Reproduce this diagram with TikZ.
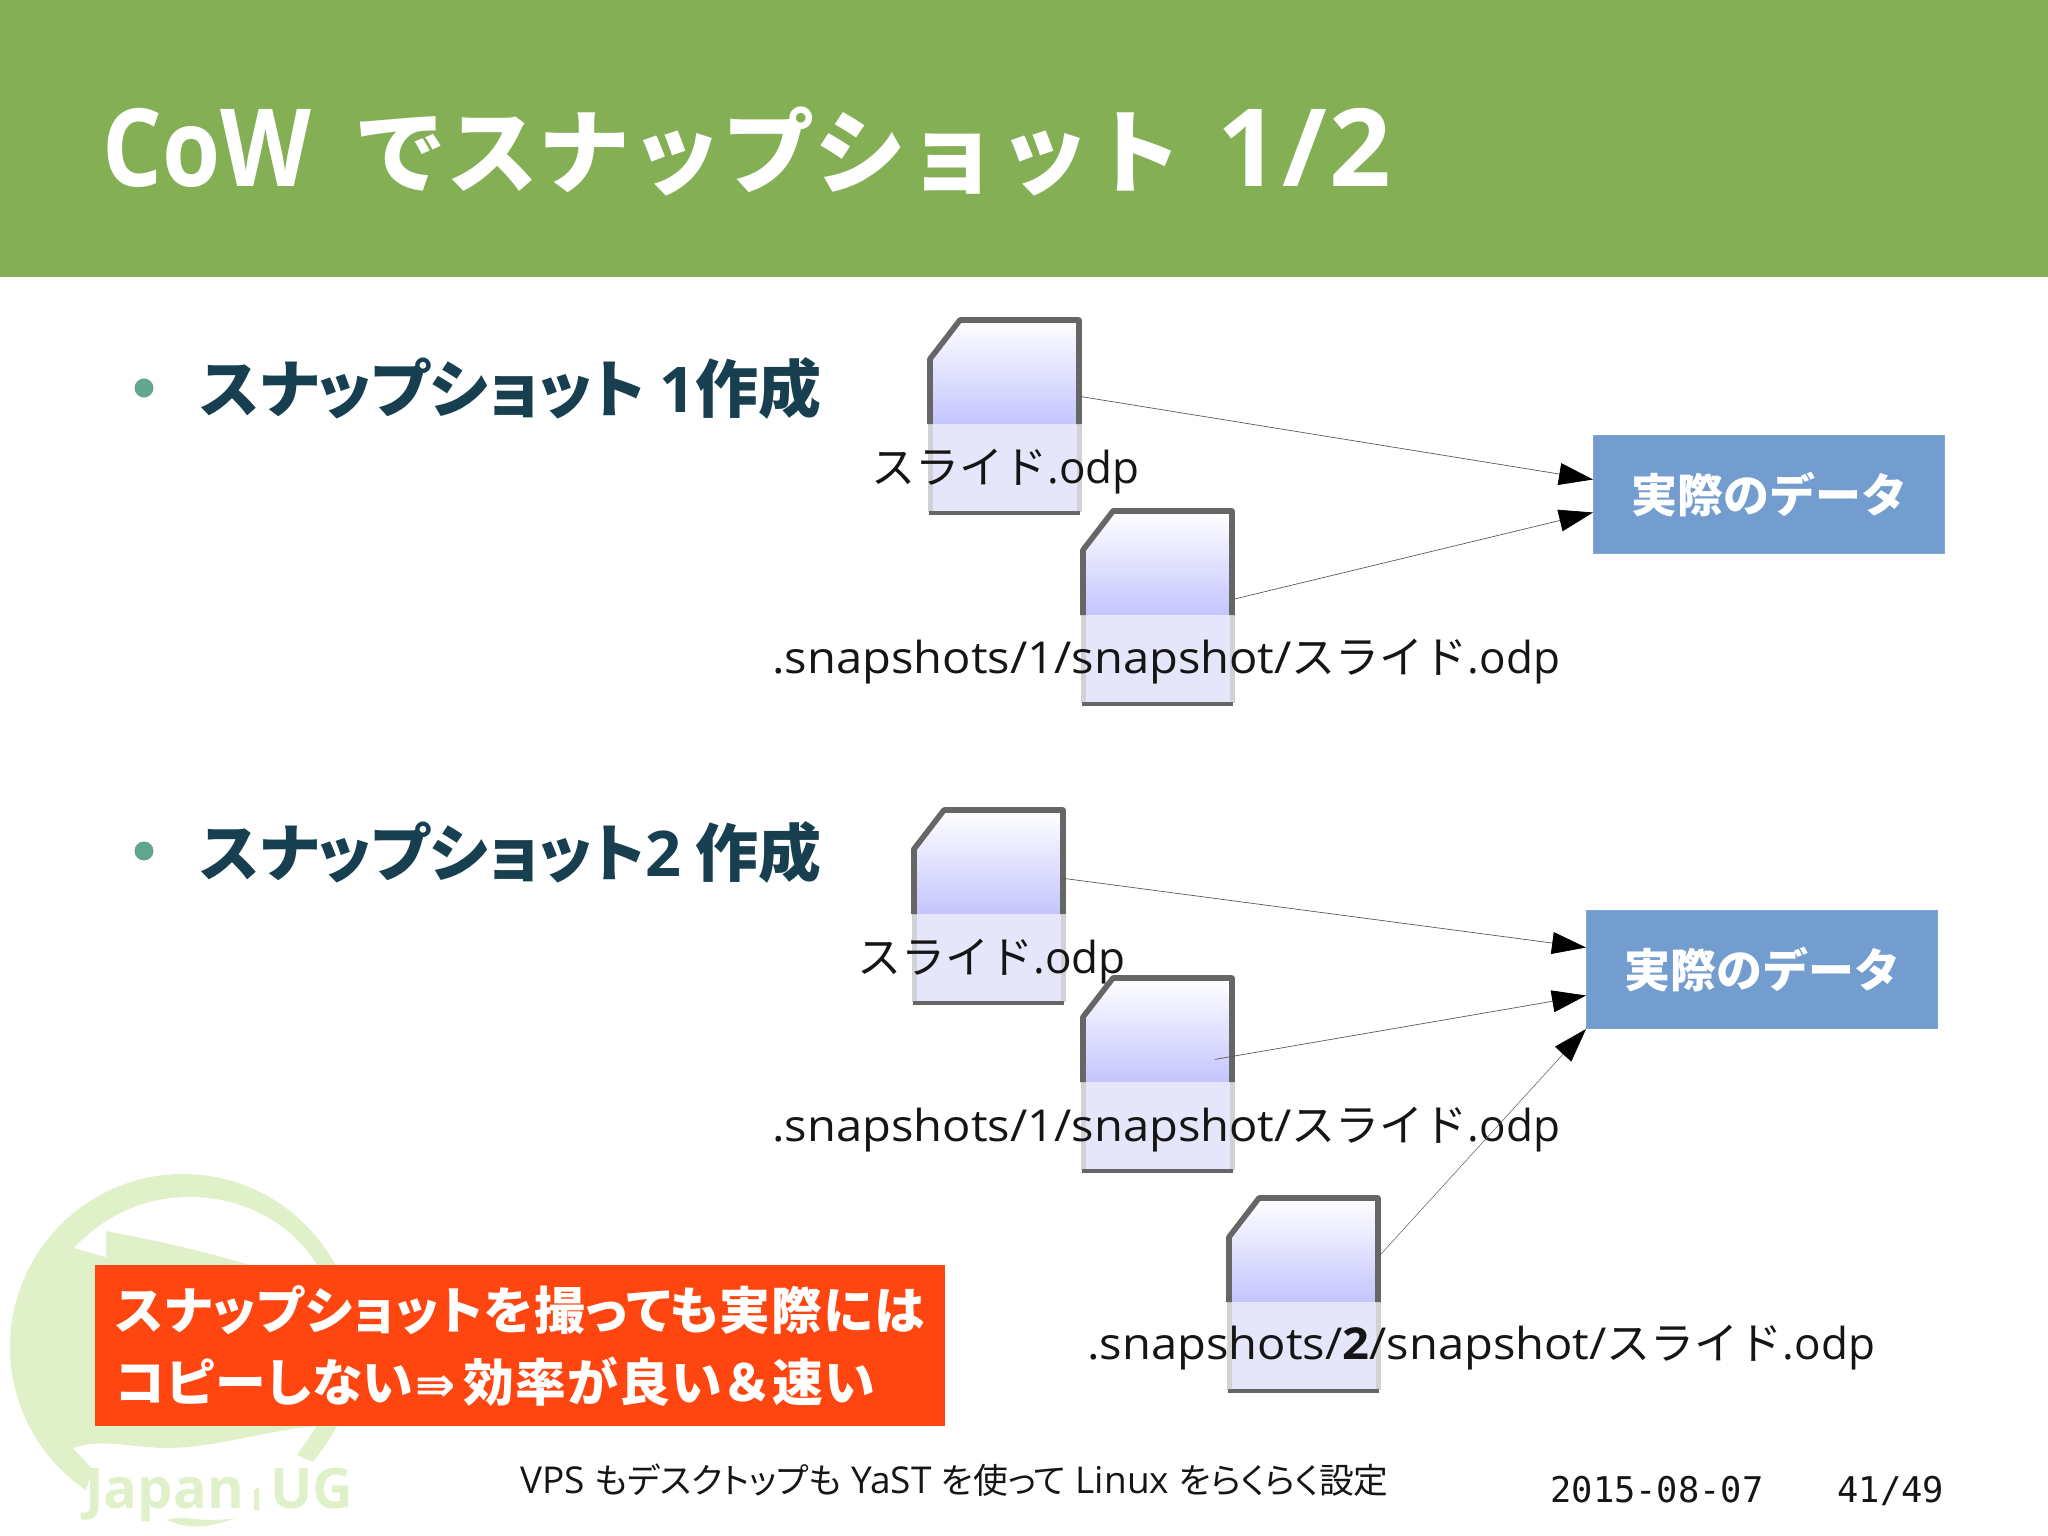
\documentclass[tikz,border=0pt]{standalone}
\usepackage{fontspec}
\usepackage{xcolor}
\usepackage{tikz}
\usetikzlibrary{arrows.meta,positioning}
\setmainfont{Open Sans}
\newfontfamily\jp[RawFeature=+palt]{Noto Sans CJK JP}
\newfontfamily\jpnote[RawFeature=+palt,LetterSpace=2.5]{Noto Sans CJK JP}
\newfontfamily\jpwide{Noto Sans CJK JP}
\newfontfamily\dejavu{DejaVu Sans}
\newfontfamily\monofoot{DejaVu Sans Mono}
\newfontfamily\titlenarrow[FakeStretch=0.87]{Open Sans}
\newfontfamily\titlenum[LetterSpace=3]{Open Sans}
\newfontfamily\widepath[FakeStretch=1.07]{Open Sans}
\definecolor{bandgreen}{HTML}{84AF55}
\definecolor{headink}{HTML}{173F4F}
\definecolor{dotgreen}{HTML}{62A591}
\definecolor{logogreen}{HTML}{E0F1C9}
\definecolor{alertred}{HTML}{FF4510}
\definecolor{databox}{HTML}{729DCE}
\definecolor{sheetblue}{HTML}{C4C4FE}
\definecolor{sheetlow}{HTML}{E6E6FA}
\definecolor{sheetedge}{HTML}{666666}
\definecolor{fadeedge}{HTML}{D2D2D6}
\definecolor{labelink}{HTML}{151515}

\newcommand{\sheet}[2]{%
  \node[filebox, anchor=north west] (#1) at (#2) {};
  \begin{scope}[shift={(#2)}]
    \shade[top color=white, bottom color=sheetblue] (0,39) -- (30,0) -- (149,0) -- (149,104) -- (0,104) -- cycle;
    \fill[sheetlow] (0,104) rectangle (149,192);
    \draw[fadeedge, line width=2.5pt] (0,104) -- (0,192) (149,192) -- (149,104);
    \draw[sheetedge, line width=2.8pt, line join=round] (0,104) -- (0,39) -- (30,0) -- (149,0) -- (149,104);
    \draw[sheetedge, line width=1.7pt] (-1,193) -- (150,193);
  \end{scope}}

\begin{document}
\begin{tikzpicture}[
  x=0.5pt, y=-0.5pt,
  filebox/.style={minimum width=74.5pt, minimum height=96pt, inner sep=0pt},
  databx/.style={fill=databox, draw=databox!90!white, line width=0.5pt, minimum width=175.5pt, minimum height=59pt, inner sep=0pt, text=white, font=\jpwide\bfseries\fontsize{23}{27}\selectfont},
  label/.style={anchor=base west, inner sep=0pt, text=labelink, font=\fontsize{22}{26}\selectfont},
  heading/.style={anchor=base west, inner sep=0pt, text=headink, font=\jp\bfseries\fontsize{31.5}{34}\selectfont},
  dot/.style={circle, fill=dotgreen, minimum size=9.5pt, inner sep=0pt},
  foot/.style={anchor=base west, inner sep=0pt, text=labelink},
  logotext/.style={anchor=base west, inner sep=0pt, text=logogreen, font=\bfseries\fontsize{28}{34}\selectfont},
  arr/.style={-{Triangle[length=17pt, width=11pt, black]}, line width=0.35pt, draw=black!65}
]
  \useasboundingbox (0,0) rectangle (2048,1535);

  % title band
  \fill[bandgreen] (0,0) rectangle (2048,277);
  \node[anchor=base west, inner sep=0pt, text=white] (title) at (102,187) {{\titlenarrow\bfseries\fontsize{54}{60}\selectfont CoW}\hspace{21.5pt}{\jpwide\bfseries\fontsize{46}{60}\selectfont でスナップショット}\hspace{17.5pt}{\titlenum\bfseries\fontsize{54}{60}\selectfont 1/2}};

  % logo
  \begin{scope}
    \clip (0,1160) -- (380,1160) -- (380,1400) -- (343,1430) -- (313,1462) -- (297,1455) -- (317,1426)
      .. controls (267,1430) and (215,1448) .. (167,1448) .. controls (135,1448) and (100,1438) .. (73,1448)
      -- (93,1470) -- (84,1495) -- (0,1520) -- cycle;
    \fill[logogreen] (183,1347) circle[radius=173];
  \end{scope}
  \fill[white] (74,1248) .. controls (105,1215) and (145,1197) .. (190,1197) .. controls (245,1197) and (295,1225) .. (320,1270)
    -- (250,1265) .. controls (200,1250) and (155,1240) .. (106,1231) -- (106,1257) -- cycle;
  \node[logotext] (logoa) at (85,1508) {Japan};
  \node[logotext] (logob) at (270,1508) {UG};
  \fill[logogreen] (254,1490) -- (259,1487) -- (259,1510) -- (254,1510) -- cycle;
  \fill[logogreen] (167,1520) .. controls (185,1514) and (200,1524) .. (235,1518) .. controls (205,1530) and (185,1528) .. (167,1520) -- cycle;

  % first snapshot
  \node[dot] (dota) at (144,388) {};
  \node[heading] (heada) at (200,412) {スナップショット {\rmfamily\bfseries 1}作成};
  \sheet{fa}{930,320}
  \sheet{fb}{1083,511}
  \node[label] (la) at (871,483) {{\jpwide スライド}.odp};
  \node[label] (lb) at (772,673) {{\widepath .snapshots/1/snapshot/}{\jpwide スライド}.odp};
  \node[databx, anchor=north west] (dataa) at (1593,435) {\raisebox{1pt}{実際のデータ}};
  \draw[arr] ([yshift=10pt]fa.east) -- ([yshift=7.5pt]dataa.west);
  \draw[arr] ([yshift=4pt]fb.east) -- ([yshift=-9pt]dataa.west);

  % second snapshot
  \node[dot] (dotb) at (144,851) {};
  \node[heading] (headb) at (200,876) {スナップショット{\rmfamily\bfseries 2} 作成};
  \sheet{fc}{914,810}
  \sheet{fd}{1083,978}
  \sheet{fe}{1229,1198}
  \node[label] (lc) at (857,973) {{\jpwide スライド}.odp};
  \node[label] (ld) at (772,1141) {{\widepath .snapshots/1/snapshot/}{\jpwide スライド}.odp};
  \node[label] (le) at (1087,1359) {{\widepath .snapshots/{\bfseries 2}/snapshot/}{\jpwide スライド}.odp};
  \node[databx, anchor=north west] (datab) at (1586,910) {\raisebox{1pt}{実際のデータ}};
  \draw[arr] ([yshift=14pt]fc.east) -- ([yshift=11pt]datab.west);
  \draw[arr] ([xshift=-9pt, yshift=7.5pt]fd.east) -- ([yshift=-13pt]datab.west);
  \draw[arr, line width=0.25pt] ([yshift=19pt]fe.east) -- (datab.south west);

  % note
  \node[fill=alertred, anchor=north west, minimum width=425pt, minimum height=80.5pt, inner xsep=10pt, inner ysep=0pt,
    text width=405pt, align=left, text=white, font=\jpnote\bfseries\fontsize{25.4}{36}\selectfont] (note) at (95,1265)
    {スナップショットを撮っても実際には\\コピーしない\hspace{1pt}{\dejavu\fontsize{24}{36}\selectfont ⇛}\hspace{4pt}効率が良い{\jpwide ＆}速い};

  % footer
  \node[foot, font=\fontsize{18.5}{22}\selectfont] (foottext) at (520,1493) {VPS {\jp\fontsize{17.4}{22}\selectfont もデスクトップも} YaST {\jp\fontsize{17.4}{22}\selectfont を使って} Linux {\jp\fontsize{17.4}{22}\selectfont をらくらく設定}};
  \node[foot, font=\monofoot\fontsize{17.7}{22}\selectfont] (footdate) at (1550,1502) {2015-08-07};
  \node[foot, font=\monofoot\fontsize{17.7}{22}\selectfont] (footpage) at (1837,1502) {41/49};
\end{tikzpicture}
\end{document}
